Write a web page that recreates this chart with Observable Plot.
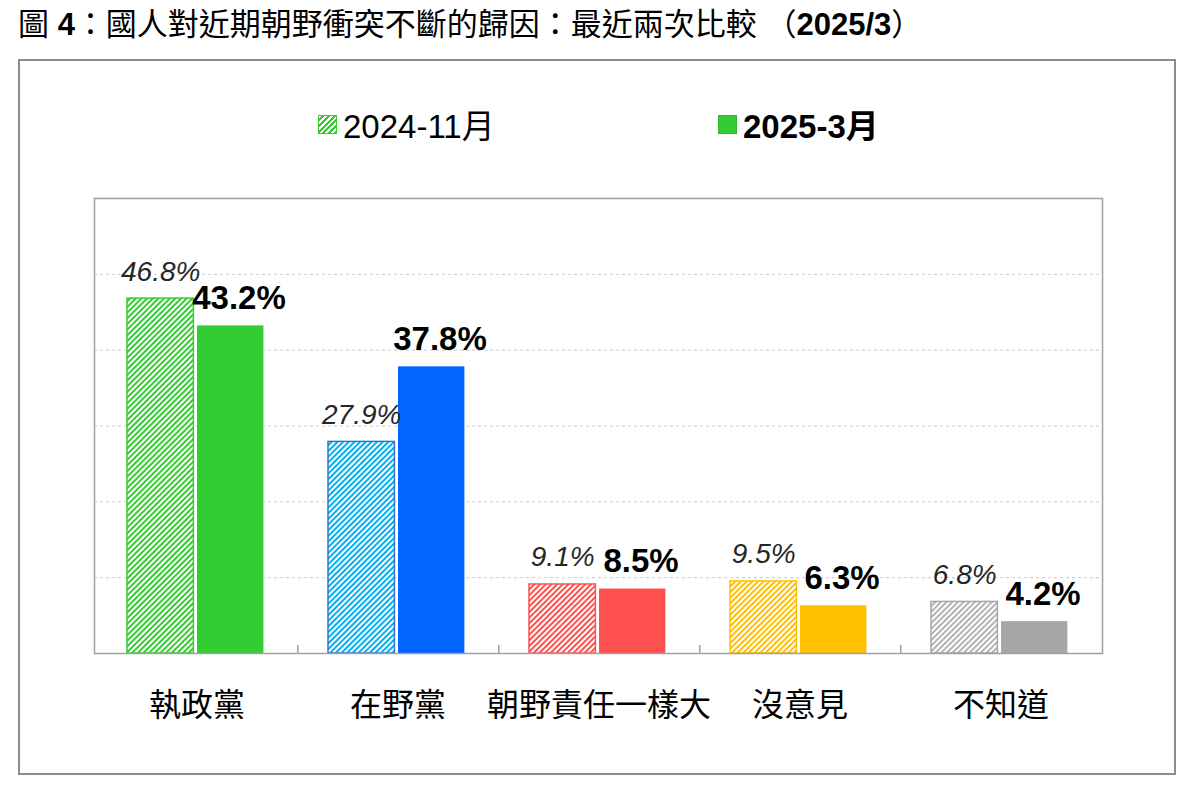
<!DOCTYPE html>
<html>
<head>
<meta charset="utf-8">
<script src="https://cdn.jsdelivr.net/npm/d3@7"></script>
<script src="https://cdn.jsdelivr.net/npm/@observablehq/plot@0.6"></script>
<style>
  body { margin: 0; background: #fff; font-family: "Liberation Sans", "Noto Sans CJK TC", sans-serif; color: #000; }
  #title { position: absolute; left: 18px; top: 6px; font-size: 31px; line-height: 38px; white-space: nowrap; }
  #title b { font-weight: bold; }
  #frame { position: absolute; left: 18px; top: 59px; width: 1158px; height: 716px; border: 2px solid #8c8c8c; box-sizing: border-box; }
  .leg { position: absolute; top: 105px; height: 38px; display: flex; align-items: center; font-size: 33px; white-space: nowrap; }
  .sw { width: 19px; height: 19px; margin-right: 6px; box-sizing: border-box; }
  #chart { position: absolute; left: 0; top: 150px; }
</style>
</head>
<body>
<div id="title">圖 <b>4</b>：國人對近期朝野衝突不斷的歸因：最近兩次比較 （<b>2025/3</b>）</div>
<div id="frame"></div>
<div class="leg" id="leg1" style="left:318px;"><div class="sw" id="sw1"></div><span id="lt1"></span></div>
<div class="leg" id="leg2" style="left:718px;font-weight:bold;"><div class="sw" id="sw2"></div><span id="lt2"></span></div>
<div id="chart"></div>
<script>
const categories = ["執政黨", "在野黨", "朝野責任一樣大", "沒意見", "不知道"];
const seriesNames = ["2024-11月", "2025-3月"];
const values2024 = [46.8, 27.9, 9.1, 9.5, 6.8];
const values2025 = [43.2, 37.8, 8.5, 6.3, 4.2];
const solidColors = ["#33cc33", "#0066ff", "#ff5050", "#ffc000", "#a6a6a6"];
const hatchColors = ["#33cc33", "#00b0f0", "#ff5050", "#ffc000", "#b3b3b3"];
const hatchBorders = ["#33cc33", "#2e75c6", "#ff5050", "#ffc000", "#a6a6a6"];
const gridTicks = [10, 20, 30, 40, 50];
const yDomain = [0, 60];

const rows2024 = categories.map((c, i) => ({cat: c, v: values2024[i], i}));
const rows2025 = categories.map((c, i) => ({cat: c, v: values2025[i], i}));

document.getElementById("lt1").textContent = seriesNames[0];
document.getElementById("lt2").textContent = seriesNames[1];
const sw1 = document.getElementById("sw1");
sw1.style.background = `repeating-linear-gradient(-45deg, ${hatchColors[0]} 0 2px, #fff 2px 4px)`;
sw1.style.border = `1.5px solid ${hatchBorders[0]}`;
const sw2 = document.getElementById("sw2");
sw2.style.background = solidColors[0];
sw2.style.border = `1.5px solid #2fb82f`;

const pct = d => d.v.toFixed(1) + "%";

const chart = Plot.plot({
  width: 1200,
  height: 600,
  marginTop: 48,
  marginBottom: 97,
  marginLeft: 94,
  marginRight: 98,
  style: {fontFamily: "'Liberation Sans', 'Noto Sans CJK TC', sans-serif", background: "transparent"},
  x: {domain: categories, padding: 0, axis: null},
  y: {domain: yDomain, axis: null},
  color: {type: "identity"},
  marks: [
    Plot.gridY(gridTicks, {stroke: "#c8c8c8", strokeOpacity: 1, strokeDasharray: "3,3"}),
    Plot.barY(rows2024, {
      x: "cat", y: "v",
      fill: d => `url(#hatch${d.i})`,
      stroke: d => hatchBorders[d.i], strokeWidth: 1.5,
      insetLeft: 31, insetRight: 103.6
    }),
    Plot.barY(rows2025, {
      x: "cat", y: "v",
      fill: d => solidColors[d.i],
      insetLeft: 101, insetRight: 33.6
    }),
    Plot.frame({stroke: "#a0a0a0", strokeWidth: 1.5}),
    Plot.ruleX(categories.slice(0, -1), {x: d => d, dx: 100.8, insetTop: 447, stroke: "#a0a0a0", strokeWidth: 1.5}),
    Plot.text(rows2024, {
      x: "cat", y: "v", text: pct, dx: -36.3, dy: -18,
      lineAnchor: "bottom", fontStyle: "italic", fontSize: 28, fill: "#262626"
    }),
    Plot.text(rows2025, {
      x: "cat", y: "v", text: pct, dx: 42, dy: -17,
      lineAnchor: "bottom", fontWeight: "bold", fontSize: 33, fill: "#000"
    }),
    Plot.axisX({domain: categories, tickSize: 0, tickPadding: 40, fontSize: 32, fill: "#000", label: null})
  ]
});

const svg = d3.select(chart);
const defs = svg.insert("defs", ":first-child");
hatchColors.forEach((c, i) => {
  const p = defs.append("pattern")
    .attr("id", "hatch" + i)
    .attr("patternUnits", "userSpaceOnUse")
    .attr("width", 4).attr("height", 4)
    .attr("patternTransform", "rotate(45)");
  p.append("rect").attr("width", 4).attr("height", 4).attr("fill", "#fff");
  p.append("rect").attr("x", 0).attr("y", 0).attr("width", 2).attr("height", 4).attr("fill", c);
});

document.getElementById("chart").appendChild(chart);
</script>
</body>
</html>
